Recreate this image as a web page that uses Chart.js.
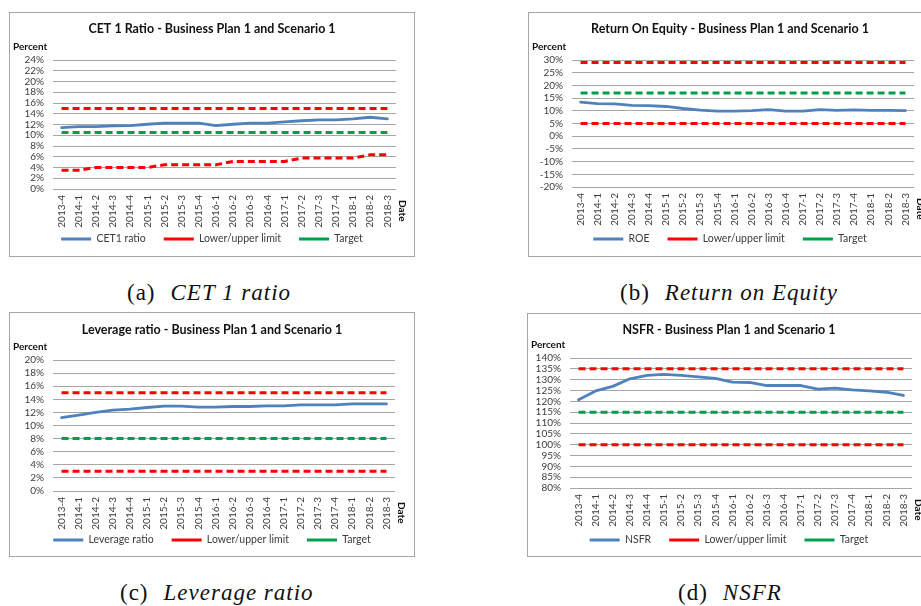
<!DOCTYPE html>
<html>
<head>
<meta charset="utf-8">
<script src="https://cdn.jsdelivr.net/npm/chart.js@4.4.1/dist/chart.umd.min.js"></script>
<style>
  html, body { margin: 0; padding: 0; background: #fff; width: 921px; height: 606px; overflow: hidden; position: relative; }
  .panel { position: absolute; border: 1px solid #a6a6a6; box-sizing: border-box; background: #fff; }
  .panel canvas { position: absolute; left: 0; top: 0; }
  .cap { position: absolute; font-family: "Liberation Serif", serif; font-size: 23px; line-height: 26px; color: #111; white-space: nowrap; letter-spacing: 1px; }
  .cap i { margin-left: 15px; letter-spacing: 1px; }
</style>
</head>
<body>
<div class="panel" style="left:9px;top:12px;width:406px;height:245px"><canvas id="cet1" width="404" height="243"></canvas></div>
<div class="panel" style="left:528px;top:12px;width:404px;height:245px"><canvas id="roe" width="402" height="243"></canvas></div>
<div class="panel" style="left:9px;top:312px;width:406px;height:245px"><canvas id="lev" width="404" height="243"></canvas></div>
<div class="panel" style="left:527px;top:313px;width:404px;height:244px"><canvas id="nsfr" width="402" height="242"></canvas></div>

<div class="cap" style="left:127px;top:280px">(a)<i>CET 1 ratio</i></div>
<div class="cap" style="left:620px;top:280px">(b)<i>Return on Equity</i></div>
<div class="cap" style="left:120px;top:580px">(c)<i>Leverage ratio</i></div>
<div class="cap" style="left:678px;top:580px">(d)<i>NSFR</i></div>

<script>
// Reporting quarters
const quarters = ['2013-4','2014-1','2014-2','2014-3','2014-4','2015-1','2015-2','2015-3','2015-4',
  '2016-1','2016-2','2016-3','2016-4','2017-1','2017-2','2017-3','2017-4','2018-1','2018-2','2018-3'];

// CET 1 ratio (%)
const cet1Ratio  = [11.4, 11.6, 11.6, 11.75, 11.8, 12.05, 12.25, 12.25, 12.25, 11.8, 12.05, 12.25, 12.25, 12.5, 12.7, 12.85, 12.85, 13.05, 13.35, 13.05];
const cet1Upper  = [15, 15, 15, 15, 15, 15, 15, 15, 15, 15, 15, 15, 15, 15, 15, 15, 15, 15, 15, 15];
const cet1Lower  = [3.5, 3.5, 4.0, 4.0, 4.0, 4.0, 4.5, 4.5, 4.5, 4.5, 5.125, 5.125, 5.125, 5.125, 5.75, 5.75, 5.75, 5.75, 6.375, 6.375];
const cet1Target = [10.5, 10.5, 10.5, 10.5, 10.5, 10.5, 10.5, 10.5, 10.5, 10.5, 10.5, 10.5, 10.5, 10.5, 10.5, 10.5, 10.5, 10.5, 10.5, 10.5];
const cet1Ticks  = [0, 2, 4, 6, 8, 10, 12, 14, 16, 18, 20, 22, 24];

// Return on equity (%)
const roeValues  = [13.4, 12.8, 12.7, 12.1, 12.0, 11.7, 10.9, 10.3, 9.9, 9.9, 10.1, 10.5, 9.9, 9.9, 10.5, 10.2, 10.4, 10.2, 10.2, 10.1];
const roeUpper   = [29, 29, 29, 29, 29, 29, 29, 29, 29, 29, 29, 29, 29, 29, 29, 29, 29, 29, 29, 29];
const roeLower   = [5, 5, 5, 5, 5, 5, 5, 5, 5, 5, 5, 5, 5, 5, 5, 5, 5, 5, 5, 5];
const roeTarget  = [17, 17, 17, 17, 17, 17, 17, 17, 17, 17, 17, 17, 17, 17, 17, 17, 17, 17, 17, 17];
const roeTicks   = [-20, -15, -10, -5, 0, 5, 10, 15, 20, 25, 30];

// Leverage ratio (%)
const levValues  = [11.2, 11.6, 12.0, 12.35, 12.5, 12.75, 12.95, 12.95, 12.8, 12.8, 12.9, 12.9, 13.0, 13.0, 13.15, 13.15, 13.15, 13.3, 13.3, 13.3];
const levUpper   = [15, 15, 15, 15, 15, 15, 15, 15, 15, 15, 15, 15, 15, 15, 15, 15, 15, 15, 15, 15];
const levLower   = [3, 3, 3, 3, 3, 3, 3, 3, 3, 3, 3, 3, 3, 3, 3, 3, 3, 3, 3, 3];
const levTarget  = [8, 8, 8, 8, 8, 8, 8, 8, 8, 8, 8, 8, 8, 8, 8, 8, 8, 8, 8, 8];
const levTicks   = [0, 2, 4, 6, 8, 10, 12, 14, 16, 18, 20];

// Net stable funding ratio (%)
const nsfrValues = [120.7, 124.8, 126.9, 130.4, 132.0, 132.4, 132.0, 131.3, 130.6, 128.9, 128.7, 127.3, 127.3, 127.3, 125.6, 126.1, 125.3, 124.8, 124.2, 122.7];
const nsfrUpper  = [135, 135, 135, 135, 135, 135, 135, 135, 135, 135, 135, 135, 135, 135, 135, 135, 135, 135, 135, 135];
const nsfrLower  = [100, 100, 100, 100, 100, 100, 100, 100, 100, 100, 100, 100, 100, 100, 100, 100, 100, 100, 100, 100];
const nsfrTarget = [115, 115, 115, 115, 115, 115, 115, 115, 115, 115, 115, 115, 115, 115, 115, 115, 115, 115, 115, 115];
const nsfrTicks  = [80, 85, 90, 95, 100, 105, 110, 115, 120, 125, 130, 135, 140];

const BLUE = '#4f81bd', RED = '#ff0000', GREEN = '#00a04a';
const TXT = '#3c3c3c';
const FONT = 'Lato';
const LEGEND_PAD = 18, LEGEND_SIZE = 10.5;

// "Percent" above the value axis and "Date" after the category axis
const axisNotes = {
  id: 'axisNotes',
  afterDraw(chart) {
    const { ctx, chartArea } = chart;
    ctx.save();
    ctx.fillStyle = '#111';
    ctx.font = 'bold 10px ' + FONT;
    ctx.textAlign = 'left';
    ctx.textBaseline = 'middle';
    ctx.fillText('Percent', 3, chartArea.top - 13);
    ctx.translate(chartArea.right + 6, chartArea.bottom + 11);
    ctx.rotate(Math.PI / 2);
    ctx.fillText('Date', 0, 0);
    ctx.restore();
  }
};

// Legend row sits right under the rotated quarter labels
const legendRow = {
  id: 'legendRow',
  afterLayout(chart, args, opts) {
    const lg = chart.legend;
    if (!lg) return;
    lg.top = opts.centerY - LEGEND_PAD - LEGEND_SIZE / 2;
    lg.height = 2 * LEGEND_PAD + LEGEND_SIZE;
    lg.bottom = lg.top + lg.height;
  }
};

function makeChart(id, p) {
  const dashed = (label, data, color) => ({
    label, data, borderColor: color, backgroundColor: color, borderWidth: 3,
    borderDash: [7, 4], pointRadius: 0, tension: 0, borderCapStyle: 'butt'
  });
  return new Chart(document.getElementById(id), {
    type: 'line',
    data: {
      labels: quarters,
      datasets: [
        { label: p.name, data: p.values, borderColor: BLUE, backgroundColor: BLUE, borderWidth: 2.8,
          pointRadius: 0, tension: 0, borderJoinStyle: 'round', borderCapStyle: 'round' },
        dashed('Lower/upper limit', p.upper, RED),
        dashed('Lower limit', p.lower, RED),
        dashed('Target', p.target, GREEN)
      ]
    },
    options: {
      responsive: false,
      animation: false,
      events: [],
      layout: { padding: { left: 0, right: 0, top: 0, bottom: p.padBottom } },
      plugins: {
        title: {
          display: true, text: p.title, color: '#111',
          font: { family: FONT, size: 12.5, weight: 'bold', lineHeight: 1.2 },
          padding: { top: p.titleTop, bottom: p.titleBottom }
        },
        legend: {
          position: 'bottom',
          maxHeight: 20,
          labels: {
            usePointStyle: true, pointStyle: 'line', pointStyleWidth: 30,
            padding: LEGEND_PAD, color: TXT, font: { family: FONT, size: LEGEND_SIZE },
            filter: item => item.datasetIndex !== 2
          }
        },
        legendRow: { centerY: p.legendY },
        tooltip: { enabled: false }
      },
      scales: {
        x: {
          offset: true,
          grid: { display: false, drawTicks: false },
          border: { display: false },
          ticks: { autoSkip: false, minRotation: 90, maxRotation: 90, padding: 6, color: TXT,
                   font: { family: FONT, size: 10 } },
          afterFit(s) { s.height = 42; }
        },
        y: {
          min: p.ticks[0], max: p.ticks[p.ticks.length - 1],
          afterBuildTicks(s) { s.ticks = p.ticks.map(v => ({ value: v })); },
          ticks: { autoSkip: false, padding: 9, color: TXT, font: { family: FONT, size: 10 }, callback: v => v + '%' },
          grid: { color: '#a6a6a6', lineWidth: 1, drawTicks: false },
          border: { display: false },
          afterFit(s) { s.width = p.yWidth; }
        },
        yRight: {
          position: 'right', min: 0, max: 1,
          ticks: { display: false }, grid: { display: false, drawTicks: false }, border: { display: false },
          afterFit(s) { s.width = p.rightGap; }
        }
      }
    },
    plugins: [axisNotes, legendRow]
  });
}

makeChart('cet1', {
  title: 'CET 1 Ratio - Business Plan 1 and Scenario 1', name: 'CET1 ratio',
  values: cet1Ratio, upper: cet1Upper, lower: cet1Lower, target: cet1Target, ticks: cet1Ticks,
  titleTop: 8.5, titleBottom: 23.5, padBottom: 5, legendY: 226, yWidth: 43, rightGap: 18
});
makeChart('roe', {
  title: 'Return On Equity - Business Plan 1 and Scenario 1', name: 'ROE',
  values: roeValues, upper: roeUpper, lower: roeLower, target: roeTarget, ticks: roeTicks,
  titleTop: 8.5, titleBottom: 23.5, padBottom: 7, legendY: 226, yWidth: 43, rightGap: 17
});
makeChart('lev', {
  title: 'Leverage ratio - Business Plan 1 and Scenario 1', name: 'Leverage ratio',
  values: levValues, upper: levUpper, lower: levLower, target: levTarget, ticks: levTicks,
  titleTop: 9.5, titleBottom: 22.5, padBottom: 3, legendY: 227, yWidth: 43, rightGap: 19
});
makeChart('nsfr', {
  title: 'NSFR - Business Plan 1 and Scenario 1', name: 'NSFR',
  values: nsfrValues, upper: nsfrUpper, lower: nsfrLower, target: nsfrTarget, ticks: nsfrTicks,
  titleTop: 8.5, titleBottom: 20.5, padBottom: 6, legendY: 226, yWidth: 42, rightGap: 18
});
</script>
</body>
</html>
